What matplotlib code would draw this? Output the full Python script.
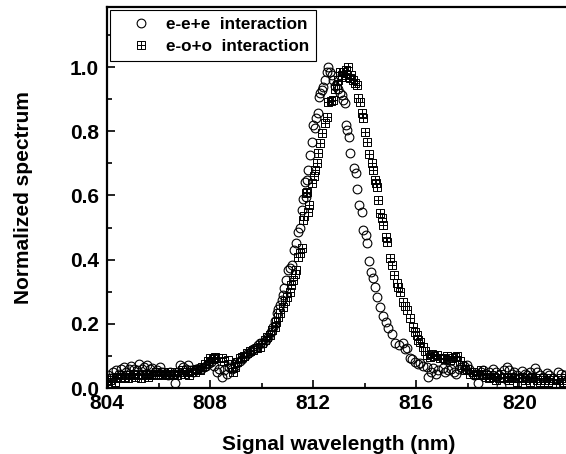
import matplotlib
matplotlib.use("Agg")
import matplotlib.pyplot as plt
from matplotlib.path import Path

plt.rcParams["font.family"] = ["Liberation Sans", "DejaVu Sans"]
plt.rcParams["font.weight"] = "bold"

# e-e+e interaction (open circles)
eee_x = [804.05, 804.15, 804.25, 804.35, 804.45, 804.55, 804.65, 804.75, 804.85, 804.95,
         805.05, 805.15, 805.25, 805.35, 805.45, 805.55, 805.65, 805.75, 805.85, 805.95,
         806.05, 806.15, 806.25, 806.35, 806.45, 806.55, 806.65, 806.75, 806.85, 806.95,
         807.05, 807.15, 807.25, 807.35, 807.45, 807.55, 807.65, 807.75, 807.85, 807.95,
         808.05, 808.15, 808.25, 808.35, 808.45, 808.55, 808.65, 808.75, 808.85, 808.95,
         809.05, 809.15, 809.25, 809.35, 809.45, 809.55, 809.65, 809.75, 809.85, 809.95,
         810.05, 810.15, 810.24, 810.35, 810.43, 810.52, 810.59, 810.65, 810.71, 810.77,
         810.82, 810.88, 810.94, 811.02, 811.10, 811.17, 811.25, 811.33, 811.40, 811.48,
         811.56, 811.62, 811.67, 811.71, 811.75, 811.79, 811.87, 811.95, 811.98, 812.06,
         812.10, 812.18, 812.22, 812.26, 812.33, 812.37, 812.45, 812.52, 812.57, 812.64,
         812.72, 812.76, 812.85, 812.95, 813.03, 813.11, 813.15, 813.22, 813.26, 813.30,
         813.38, 813.42, 813.57, 813.65, 813.69, 813.77, 813.88, 813.92, 814.04, 814.08,
         814.16, 814.23, 814.31, 814.39, 814.47, 814.58, 814.70, 814.81, 814.89, 815.05,
         815.16, 815.32, 815.47, 815.55, 815.63, 815.74, 815.85, 815.94, 816.05, 816.13,
         816.25, 816.40, 816.44, 816.55, 816.64, 816.75, 816.85, 817.02, 817.12, 817.22,
         817.35, 817.45, 817.55, 817.65, 817.75, 817.85, 817.95, 818.05, 818.15, 818.25,
         818.40, 818.50, 818.60, 818.70, 818.80, 818.96, 819.10, 819.20, 819.30, 819.40,
         819.50, 819.60, 819.70, 819.80, 819.90, 820.10, 820.20, 820.30, 820.40, 820.60,
         820.70, 820.80, 820.90, 821.05, 821.15, 821.30, 821.50, 821.60, 821.75]
eee_y = [0.040, 0.030, 0.050, 0.055, 0.045, 0.060, 0.065, 0.050, 0.060, 0.070,
         0.060, 0.055, 0.075, 0.060, 0.065, 0.072, 0.058, 0.062, 0.050, 0.055,
         0.066, 0.050, 0.045, 0.040, 0.050, 0.045, 0.017, 0.050, 0.072, 0.065,
         0.060, 0.072, 0.055, 0.050, 0.060, 0.062, 0.058, 0.065, 0.070, 0.078,
         0.080, 0.070, 0.050, 0.060, 0.035, 0.056, 0.045, 0.065, 0.060, 0.070,
         0.080, 0.085, 0.090, 0.100, 0.105, 0.112, 0.120, 0.125, 0.135, 0.140,
         0.140, 0.150, 0.159, 0.175, 0.190, 0.210, 0.234, 0.245, 0.259, 0.275,
         0.290, 0.310, 0.336, 0.368, 0.375, 0.383, 0.430, 0.452, 0.486, 0.498,
         0.555, 0.590, 0.642, 0.595, 0.648, 0.679, 0.726, 0.766, 0.819, 0.810,
         0.841, 0.857, 0.907, 0.919, 0.928, 0.938, 0.960, 0.985, 1.000, 0.984,
         0.975, 0.960, 0.940, 0.930, 0.920, 0.913, 0.897, 0.888, 0.819, 0.804,
         0.782, 0.732, 0.685, 0.670, 0.620, 0.570, 0.548, 0.492, 0.477, 0.452,
         0.396, 0.361, 0.343, 0.315, 0.283, 0.252, 0.224, 0.206, 0.187, 0.168,
         0.140, 0.134, 0.140, 0.120, 0.125, 0.093, 0.090, 0.081, 0.075, 0.078,
         0.070, 0.065, 0.034, 0.050, 0.062, 0.045, 0.055, 0.062, 0.050, 0.056,
         0.060, 0.050, 0.045, 0.060, 0.065, 0.070, 0.072, 0.060, 0.050, 0.040,
         0.015, 0.050, 0.055, 0.045, 0.050, 0.059, 0.050, 0.040, 0.006, 0.055,
         0.066, 0.055, 0.045, 0.050, 0.040, 0.053, 0.045, 0.040, 0.050, 0.062,
         0.050, 0.040, 0.035, 0.047, 0.040, 0.030, 0.050, 0.045, 0.040]

# e-o+o interaction (boxed plus)
eoo_x = [804.02, 804.10, 804.20, 804.30, 804.40, 804.50, 804.60, 804.70, 804.80, 804.90,
         805.00, 805.10, 805.20, 805.30, 805.40, 805.50, 805.60, 805.70, 805.80, 805.90,
         806.00, 806.10, 806.20, 806.30, 806.40, 806.50, 806.60, 806.70, 806.80, 806.90,
         807.00, 807.10, 807.20, 807.30, 807.40, 807.50, 807.60, 807.70, 807.80, 807.90,
         808.00, 808.10, 808.19, 808.30, 808.46, 808.55, 808.69, 808.80, 808.88, 808.95,
         809.05, 809.15, 809.23, 809.33, 809.43, 809.55, 809.66, 809.80, 809.93, 810.02,
         810.12, 810.22, 810.32, 810.42, 810.51, 810.57, 810.63, 810.72, 810.82, 810.90,
         810.97, 811.09, 811.15, 811.20, 811.28, 811.33, 811.40, 811.48, 811.56, 811.60,
         811.65, 811.71, 811.75, 811.79, 811.83, 811.95, 812.02, 812.08, 812.14, 812.18,
         812.26, 812.33, 812.45, 812.53, 812.57, 812.68, 812.76, 812.85, 812.91, 812.95,
         813.03, 813.10, 813.15, 813.22, 813.28, 813.34, 813.42, 813.48, 813.53, 813.61,
         813.69, 813.73, 813.80, 813.88, 813.92, 814.00, 814.08, 814.18, 814.27, 814.31,
         814.39, 814.43, 814.47, 814.50, 814.58, 814.66, 814.70, 814.81, 814.85, 814.97,
         815.05, 815.12, 815.24, 815.30, 815.36, 815.47, 815.55, 815.63, 815.74, 815.86,
         815.95, 816.02, 816.08, 816.13, 816.25, 816.34, 816.40, 816.52, 816.60, 816.70,
         816.79, 816.90, 817.02, 817.12, 817.20, 817.30, 817.40, 817.49, 817.58, 817.68,
         817.76, 817.88, 817.98, 818.10, 818.20, 818.30, 818.40, 818.50, 818.60, 818.70,
         818.80, 818.90, 819.00, 819.10, 819.20, 819.30, 819.40, 819.50, 819.60, 819.70,
         819.80, 819.90, 820.00, 820.10, 820.20, 820.30, 820.40, 820.50, 820.60, 820.70,
         820.80, 820.90, 821.00, 821.10, 821.20, 821.30, 821.40, 821.50, 821.60, 821.70,
         821.80]
eoo_y = [0.010, 0.025, 0.030, 0.020, 0.035, 0.030, 0.040, 0.035, 0.030, 0.040,
         0.045, 0.035, 0.040, 0.030, 0.045, 0.040, 0.035, 0.045, 0.040, 0.050,
         0.045, 0.040, 0.050, 0.045, 0.040, 0.050, 0.045, 0.040, 0.050, 0.055,
         0.045, 0.050, 0.040, 0.055, 0.050, 0.060, 0.055, 0.065, 0.075, 0.085,
         0.093, 0.090, 0.097, 0.095, 0.093, 0.085, 0.087, 0.075, 0.050, 0.065,
         0.080, 0.093, 0.097, 0.100, 0.109, 0.115, 0.118, 0.125, 0.128, 0.140,
         0.150, 0.160, 0.165, 0.180, 0.190, 0.205, 0.221, 0.235, 0.252, 0.270,
         0.285, 0.299, 0.320, 0.336, 0.355, 0.368, 0.408, 0.420, 0.436, 0.523,
         0.535, 0.607, 0.611, 0.548, 0.570, 0.639, 0.660, 0.680, 0.701, 0.732,
         0.763, 0.794, 0.826, 0.844, 0.891, 0.894, 0.897, 0.930, 0.944, 0.960,
         0.984, 0.975, 0.984, 0.970, 0.990, 1.000, 0.966, 0.975, 0.960, 0.950,
         0.944, 0.903, 0.891, 0.857, 0.841, 0.797, 0.766, 0.730, 0.701, 0.679,
         0.648, 0.639, 0.626, 0.586, 0.545, 0.530, 0.508, 0.470, 0.455, 0.405,
         0.383, 0.352, 0.327, 0.315, 0.299, 0.268, 0.255, 0.243, 0.218, 0.190,
         0.175, 0.165, 0.150, 0.143, 0.128, 0.115, 0.103, 0.097, 0.105, 0.100,
         0.103, 0.095, 0.093, 0.090, 0.100, 0.087, 0.095, 0.097, 0.100, 0.085,
         0.072, 0.056, 0.060, 0.045, 0.050, 0.040, 0.045, 0.056, 0.040, 0.035,
         0.030, 0.040, 0.035, 0.025, 0.030, 0.045, 0.035, 0.030, 0.025, 0.035,
         0.030, 0.020, 0.030, 0.035, 0.025, 0.030, 0.020, 0.035, 0.030, 0.025,
         0.020, 0.030, 0.025, 0.020, 0.030, 0.025, 0.015, 0.025, 0.030, 0.020,
         0.025]

x_ticks = [804, 808, 812, 816, 820]
y_ticks = [0.0, 0.2, 0.4, 0.6, 0.8, 1.0]

# square with a plus inside
boxplus = Path([(-1, -1), (1, -1), (1, 1), (-1, 1), (-1, -1), (0, -1), (0, 1), (-1, 0), (1, 0)],
               [Path.MOVETO, Path.LINETO, Path.LINETO, Path.LINETO, Path.CLOSEPOLY,
                Path.MOVETO, Path.LINETO, Path.MOVETO, Path.LINETO])

fig = plt.figure(figsize=(5.66, 4.54), dpi=100)
ax = fig.add_axes([107 / 566, 1 - 388 / 454, 464 / 566, 381 / 454])

ax.plot(eee_x, eee_y, "o", ms=6.3, mfc="none", mec="black", mew=0.8,
        label="e-e+e  interaction")
ax.plot(eoo_x, eoo_y, ls="none", marker=boxplus, ms=5.5, mfc="none", mec="black", mew=0.7,
        label="e-o+o  interaction")

ax.set_xlim(804, 822)
ax.set_ylim(0, 1.187)
ax.set_xticks(x_ticks)
ax.set_yticks(y_ticks)
ax.set_yticklabels([f"{v:.1f}" for v in y_ticks])
ax.set_xticks([806, 810, 814, 818, 822], minor=True)
ax.set_yticks([0.1, 0.3, 0.5, 0.7, 0.9, 1.1], minor=True)
ax.tick_params(which="both", direction="in", width=1.2, labelsize=15)
ax.tick_params(which="major", length=6)
ax.tick_params(which="minor", length=3.5)
ax.tick_params(axis="y", pad=6)
ax.tick_params(axis="x", pad=4)
for s in ax.spines.values():
    s.set_linewidth(1.6)

ax.set_xlabel("Signal wavelength (nm)", fontsize=15, fontweight="bold")
ax.set_ylabel("Normalized spectrum", fontsize=15, fontweight="bold")
ax.xaxis.set_label_coords(0.5, -0.123)
ax.yaxis.set_label_coords(-0.16, 0.5)

leg = ax.legend(loc="upper left", bbox_to_anchor=(110 / 566, 1 - 10 / 454),
                bbox_transform=fig.transFigure, borderaxespad=0, fancybox=False,
                framealpha=1, edgecolor="black", fontsize=12.3, handlelength=2.8,
                handletextpad=0.1, labelspacing=0.4, borderpad=0.4)
leg.get_frame().set_linewidth(0.8)

fig.savefig("out.png", dpi=100)
